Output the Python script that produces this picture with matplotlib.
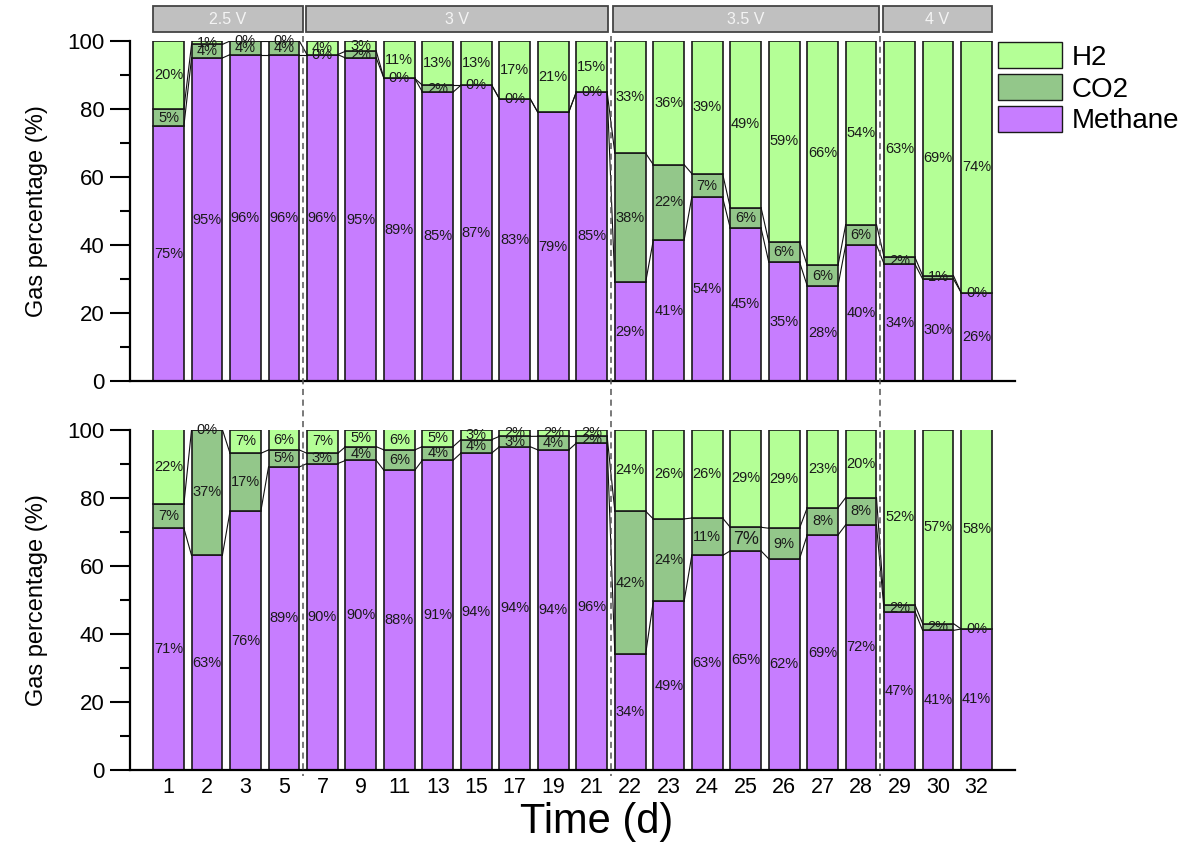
import matplotlib
matplotlib.use("Agg")
import matplotlib.pyplot as plt
import matplotlib.transforms as mtransforms
from matplotlib.patches import Rectangle, Patch
from matplotlib.lines import Line2D
import numpy as np

plt.rcParams['font.family'] = ['Liberation Sans', 'DejaVu Sans']

# ---------------- data ----------------
days = ["1", "2", "3", "5", "7", "9", "11", "13", "15", "17", "19", "21",
        "22", "23", "24", "25", "26", "27", "28", "29", "30", "32"]

top_methane = [75, 95, 96, 96, 96, 95, 89, 85, 87, 83, 79, 85,
               29, 41, 54, 45, 35, 28, 40, 34, 30, 26]
top_co2 = [5, 4, 4, 4, 0, 2, 0, 2, 0, 0, 0, 0,
           38, 22, 7, 6, 6, 6, 6, 2, 1, 0]
top_h2 = [20, 1, 0, 0, 4, 3, 11, 13, 13, 17, 21, 15,
          33, 36, 39, 49, 59, 66, 54, 63, 69, 74]

bot_methane = [71, 63, 76, 89, 90, 90, 88, 91, 94, 94, 94, 96,
               34, 49, 63, 65, 62, 69, 72, 47, 41, 41]
bot_co2 = [7, 37, 17, 5, 3, 4, 6, 4, 4, 3, 4, 2,
           42, 24, 11, 7, 9, 8, 8, 2, 2, 0]
bot_h2 = [22, 0, 7, 6, 7, 5, 6, 5, 3, 2, 2, 2,
          24, 26, 26, 29, 29, 23, 20, 52, 57, 58]

voltage_labels = ["2.5 V", "3 V", "3.5 V", "4 V"]
voltage_spans = [(-0.4, 3.5), (3.57, 11.43), (11.54, 18.47), (18.57, 21.4)]
separators = [3.5, 11.5, 18.5]

# ---------------- style ----------------
C_H2 = "#B4FF96"
C_CO2 = "#93C78A"
C_CH4 = "#C77DFF"
EDGE = "#1a1a1a"
W = 0.8

W_PX, H_PX = 1202, 844
fig = plt.figure(figsize=(W_PX / 100, H_PX / 100), dpi=100)

left = 130 / W_PX
right = 1015 / W_PX


def fy(p):
    return 1 - p / H_PX


ax_top = fig.add_axes([left, fy(381), right - left, (381 - 41) / H_PX])
ax_bot = fig.add_axes([left, fy(770), right - left, (770 - 429.5) / H_PX])

x = np.arange(len(days))


def draw(ax, ch4, co2, h2, hide=(), big=()):
    ch4 = np.array(ch4, float)
    co2 = np.array(co2, float)
    h2 = np.array(h2, float)
    tot = ch4 + co2 + h2
    # 100% stacked: normalise each column
    n_ch4 = ch4 / tot * 100
    n_co2 = co2 / tot * 100
    n_h2 = h2 / tot * 100
    ax.bar(x, n_ch4, W, color=C_CH4, edgecolor=EDGE, linewidth=1.2, zorder=2)
    ax.bar(x, n_co2, W, bottom=n_ch4, color=C_CO2, edgecolor=EDGE,
           linewidth=1.2, zorder=2)
    ax.bar(x, n_h2, W, bottom=n_ch4 + n_co2, color=C_H2, edgecolor=EDGE,
           linewidth=1.2, zorder=2)
    # connecting lines
    for lvl in (n_ch4, n_ch4 + n_co2):
        for i in range(len(x) - 1):
            ax.plot([x[i] + W / 2, x[i + 1] - W / 2], [lvl[i], lvl[i + 1]],
                    color="#111111", lw=0.8, zorder=3)
    # labels
    for i in range(len(x)):
        segs = [(ch4[i], n_ch4[i] / 2, "ch4"),
                (co2[i], n_ch4[i] + n_co2[i] / 2, "co2"),
                (h2[i], n_ch4[i] + n_co2[i] + n_h2[i] / 2, "h2")]
        for v, yc, name in segs:
            if (i, name) in hide:
                continue
            fs = 13 if (i, name) in big else 10.5
            ax.text(x[i], yc, f"{int(v)}%", ha="center", va="center",
                    fontsize=fs, color="#1a1a1a", zorder=4)


draw(ax_top, top_methane, top_co2, top_h2, hide={(10, "co2")})
draw(ax_bot, bot_methane, bot_co2, bot_h2, big={(15, "co2")})

for ax in (ax_top, ax_bot):
    ax.set_xlim(-1.0, 22.0)
    ax.set_ylim(0, 100)
    ax.set_yticks(np.arange(0, 101, 20))
    ax.set_yticks(np.arange(10, 100, 20), minor=True)
    ax.tick_params(axis="y", which="major", direction="out", length=14.5,
                   width=1.5, labelsize=16, pad=4)
    ax.tick_params(axis="y", which="minor", direction="out", length=7.5,
                   width=1.5)
    ax.tick_params(axis="x", length=0)
    for s in ("top", "right"):
        ax.spines[s].set_visible(False)
    for s in ("left", "bottom"):
        ax.spines[s].set_linewidth(1.6)
    ax.set_ylabel("Gas percentage (%)", fontsize=17, labelpad=14)
    ax.set_facecolor("none")

ax_top.set_xticks(x)
ax_top.set_xticklabels([])
ax_bot.set_xticks(x)
ax_bot.set_xticklabels(days, fontsize=15.5)
ax_bot.tick_params(axis="x", pad=5)

fig.text(597 / W_PX, fy(822), "Time (d)", fontsize=30, ha="center",
         va="center")

# voltage header boxes
trans = mtransforms.blended_transform_factory(ax_top.transData, fig.transFigure)
for lab, (x0, x1) in zip(voltage_labels, voltage_spans):
    r = Rectangle((x0, fy(32)), x1 - x0, (32 - 6) / H_PX, transform=trans,
                  facecolor="#C0C0C0", edgecolor="#444444", linewidth=1.3,
                  clip_on=False)
    fig.add_artist(r)
    fig.text((x0 + x1) / 2, fy(19), lab, transform=trans, ha="center",
             va="center", fontsize=11.5, color="#F4F4F4")

# dashed separators spanning both panels
for sx in separators:
    ln = Line2D([sx, sx], [fy(36), fy(776)], transform=trans,
                color="#555555", lw=1.1, ls=(0, (4, 3)), zorder=5)
    fig.add_artist(ln)

# legend
handles = [Patch(facecolor=C_H2, edgecolor=EDGE, label="H2"),
           Patch(facecolor=C_CO2, edgecolor=EDGE, label="CO2"),
           Patch(facecolor=C_CH4, edgecolor=EDGE, label="Methane")]
fig.legend(handles=handles, loc="upper left",
           bbox_to_anchor=(998 / W_PX, fy(42)), frameon=False, fontsize=20,
           handlelength=2.3, handleheight=1.08, handletextpad=0.36,
           labelspacing=0.12, borderpad=0, borderaxespad=0)

fig.savefig("out.png", dpi=100)
